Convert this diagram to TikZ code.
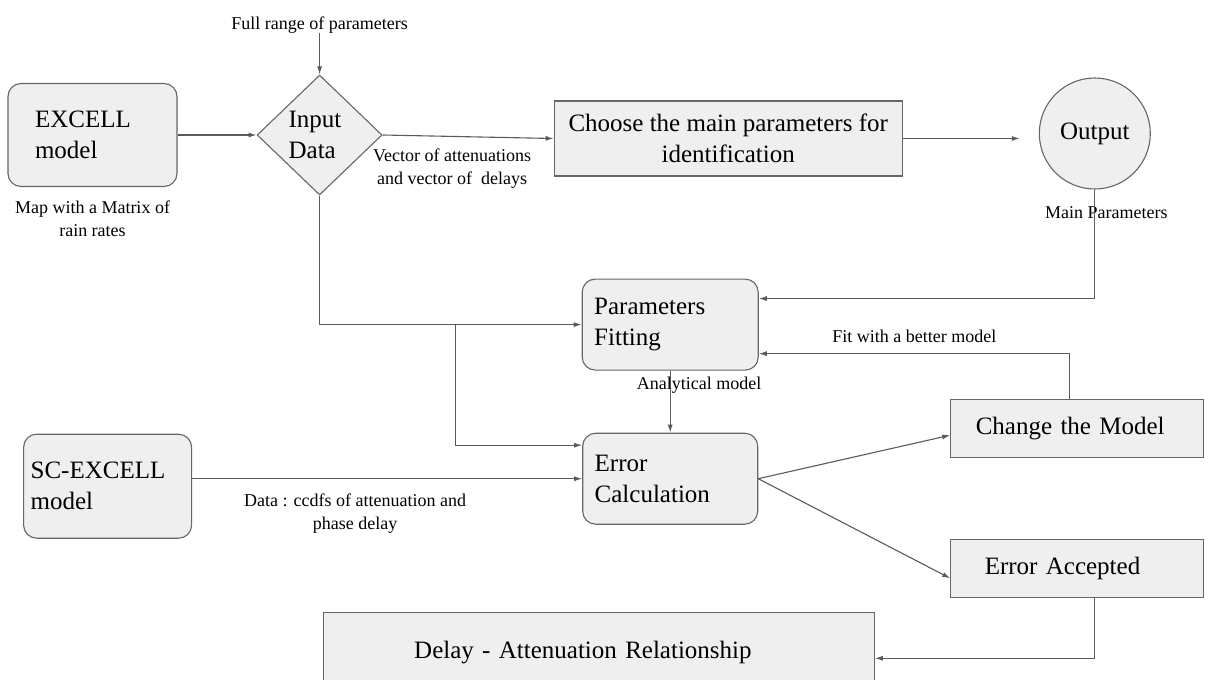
\documentclass[tikz,border=0pt]{standalone}
\usepackage{fontspec}
\setmainfont{Liberation Serif}
\usepackage{tikz}
\usetikzlibrary{arrows.meta, positioning, shapes.geometric}
\definecolor{boxfill}{HTML}{EFEFEF}
\definecolor{boxline}{HTML}{666666}
\definecolor{wiregray}{HTML}{5A5A5A}
\newcommand*{\bigtext}{\fontsize{25pt}{31pt}\selectfont}
\newcommand*{\smalltext}{\fontsize{18pt}{22.5pt}\selectfont}
\tikzstyle{block} = [draw=boxline, fill=boxfill, line width=1.1pt, font=\bigtext, inner ysep=0pt]
\tikzstyle{model} = [block, rounded corners=13pt, align=left]
\tikzstyle{task} = [block, align=left]
\tikzstyle{note} = [font=\smalltext, inner sep=0pt, align=center]
\tikzstyle{flow} = [-{Latex[length=8pt, width=5pt]}, line width=1.1pt, draw=wiregray]

\begin{document}
\begin{tikzpicture}[x=1pt, y=1pt, node distance=1cm]
    \useasboundingbox (0,0) rectangle (1213,-680);

    % Main blocks.
    \node (excell) [model, minimum width=169pt, minimum height=103pt, text width=115pt, inner xsep=27pt] at (92.5,-135) {EXCELL\\model};
    \node (input) [block, diamond, minimum width=125pt, minimum height=120pt, inner sep=0pt, text width=62pt, align=left, right=79pt of excell] {Input\\Data};
    \node (choose) [task, minimum width=348pt, minimum height=75pt, align=center, right=171pt of input, yshift=-3.5pt] {Choose the main parameters for\\identification};
    \node (output) [block, circle, minimum size=111pt, inner sep=0pt, right=136pt of choose, yshift=5pt] {Output};
    \node (fitting) [model, minimum width=176pt, minimum height=91pt, text width=152pt, inner xsep=12pt, below=102pt of choose, xshift=-58pt] {Parameters\\Fitting};
    \node (error) [model, minimum width=175pt, minimum height=91pt, text width=151pt, inner xsep=12pt, below=62pt of fitting] {Error\\Calculation};
    \node (scexcell) [model, minimum width=168pt, minimum height=104pt, text width=154pt, inner xsep=7pt, left=390pt of error, yshift=-7.5pt] {SC-EXCELL\\model};
    \node (change) [task, minimum width=253pt, minimum height=58pt, text width=203pt, inner xsep=25pt, right=192pt of error, yshift=50.5pt] {Change the Model};
    \node (accepted) [task, minimum width=253pt, minimum height=58pt, text width=185pt, inner xsep=34pt, below=81pt of change] {Error Accepted};
    \node (delay) [task, minimum width=551pt, minimum height=81pt, text width=369pt, inner xsep=91pt, below=87pt of error, xshift=-71.5pt] {Delay - Attenuation Relationship};

    % Labels.
    \node (full range) [note, above=41pt of input] {Full range of parameters};
    \node (map note) [note, below=14pt of excell] {Map with a Matrix of\\rain rates};
    \node (main note) [note, below=17pt of output, xshift=11.5pt] {Main Parameters};
    \node (analytical note) [note, below=6pt of fitting, xshift=29pt] {Analytical model};

    % Coordinates.
    \node (out corner) [coordinate, below=109pt of output] {};
    \node (change corner) [coordinate, above=45pt of change, xshift=-7.5pt] {};
    \node (split) [coordinate, left=126pt of fitting] {};

    % Paths.
    \draw [flow] (full range) -- (input);
    \draw [flow] (excell) -- (input);
    \draw [flow] (input.east) -- node (vector note) [note, below=12pt, xshift=-16pt] {Vector of attenuations\\and vector of\ \ delays} (choose.west);
    \draw [flow, shorten >=19pt] (choose.east) -- (choose.east -| output.west);

    % Feedback into the fitting block.
    \draw [flow] (output) -- (out corner) -- (fitting.east |- out corner);
    \draw [flow] (change.north -| change corner) -- (change corner) -- node (fit note) [note, above=10pt] {Fit with a better model} (fitting.east |- change corner);

    % Data into fitting and error calculation.
    \draw [flow] (input.south) |- (fitting.west);
    \draw [flow] (split) |- ([yshift=33.5pt]error.west);
    \draw [flow] (scexcell.east |- error.west) -- node (data note) [note, below=15pt, xshift=-32pt] {Data : ccdfs of attenuation and\\phase delay} (error.west);
    \draw [flow] (fitting) -- (error);

    % Decision.
    \draw [flow] (error.east) -- ([yshift=-7pt]change.west);
    \draw [flow] (error.east) -- ([yshift=-10pt]accepted.west);
    \draw [flow] ([xshift=17.5pt]accepted.south) |- ([yshift=-5.5pt]delay.east);
\end{tikzpicture}
\end{document}
